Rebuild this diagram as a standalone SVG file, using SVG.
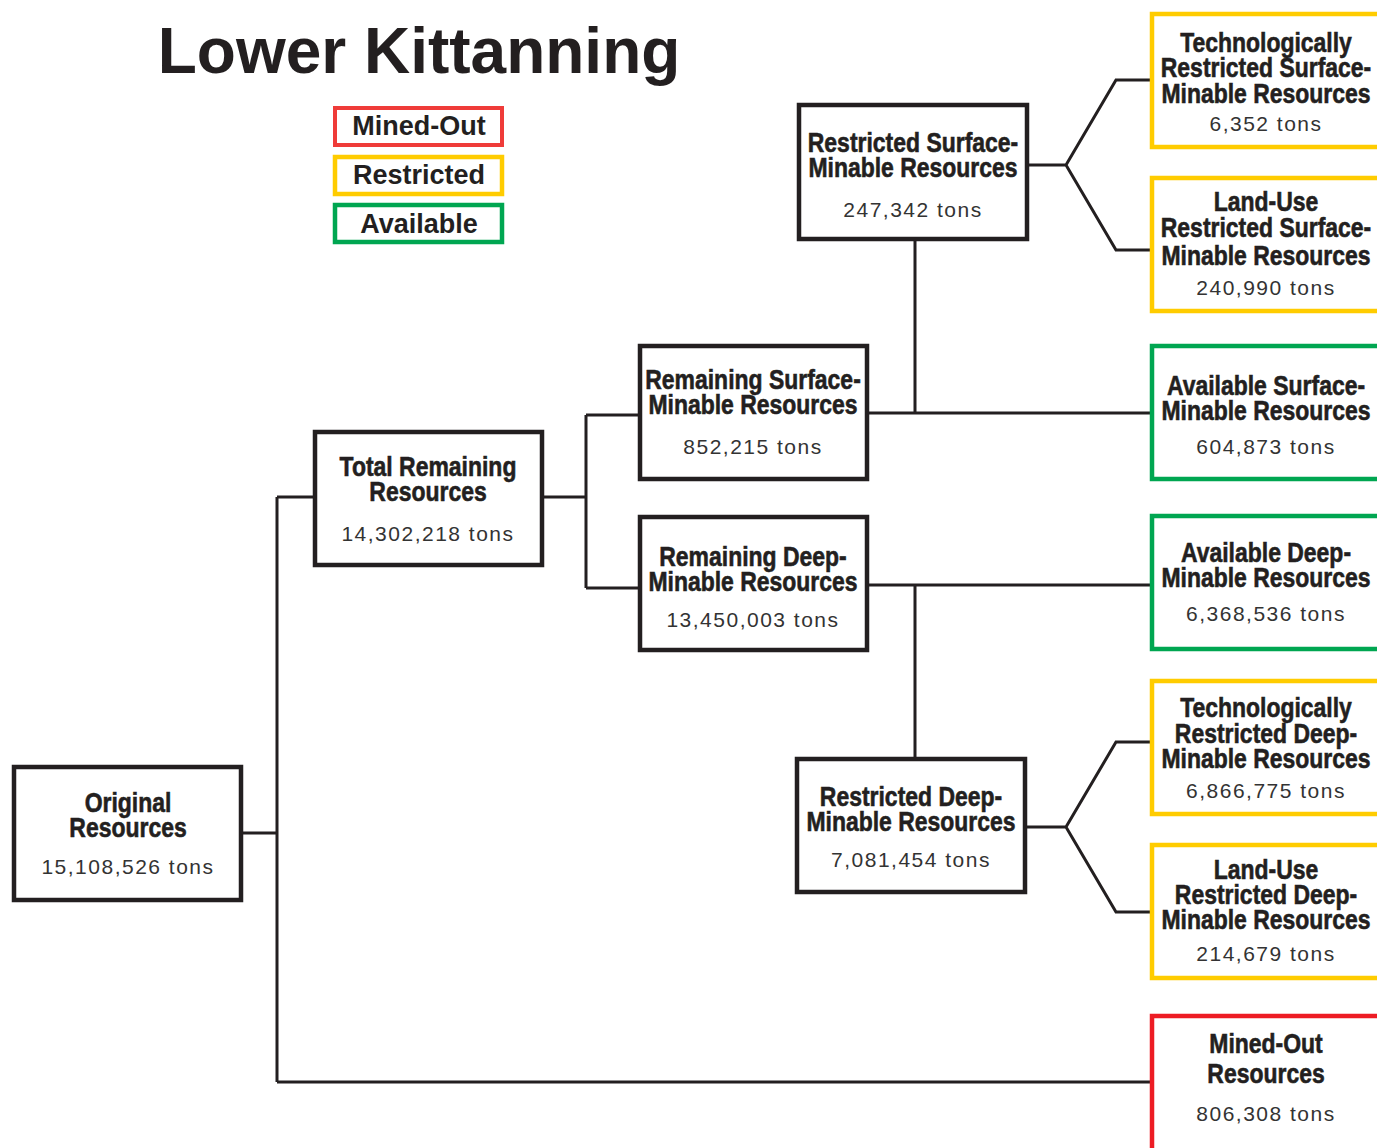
<svg xmlns="http://www.w3.org/2000/svg" width="1377" height="1148" viewBox="0 0 1377 1148">
<style>
.title{font-family:"Liberation Sans",Arial,sans-serif;font-weight:bold;font-size:64px;fill:#231f20}
.leg{font-family:"Liberation Sans",Arial,sans-serif;font-weight:bold;font-size:27px;fill:#231f20;text-anchor:middle}
.b{font-family:"Liberation Sans",Arial,sans-serif;font-weight:bold;font-size:28px;fill:#231f20;stroke:#231f20;stroke-width:0.6;text-anchor:middle}
.t{font-family:"Liberation Sans",Arial,sans-serif;font-size:21px;letter-spacing:1.5px;fill:#333;text-anchor:middle}
.box{fill:#fff;stroke:#231f20;stroke-width:4.5}
.y{fill:#fff;stroke:#ffcc00;stroke-width:4.5}
.g{fill:#fff;stroke:#00a651;stroke-width:4.5}
.r{fill:#fff;stroke:#ed1c24;stroke-width:4.5}
.lr{fill:#fff;stroke:#ef3b39;stroke-width:4}
.c{fill:none;stroke:#231f20;stroke-width:3;stroke-linejoin:miter}
</style>
<text class="title" x="419" y="73" text-anchor="middle">Lower Kittanning</text>
<g id="legend">
<rect class="lr" x="335" y="108" width="167" height="37"/>
<text class="leg" x="419" y="135">Mined-Out</text>
<rect class="y" x="335" y="157" width="167" height="37" stroke-width="4"/>
<text class="leg" x="419" y="184">Restricted</text>
<rect class="g" x="335" y="205" width="167" height="37" stroke-width="4"/>
<text class="leg" x="419" y="233">Available</text>
</g>
<g id="connectors">
<path class="c" d="M243 833H277M277 497V1082M277 497H313M277 1082H1150"/>
<path class="c" d="M544 497H586M586 415V588M586 415H638M586 588H638"/>
<path class="c" d="M869 413H1150M915 241V413"/>
<path class="c" d="M869 585H1150M915 585V757"/>
<path class="c" d="M1029 165H1066L1116 80H1150M1066 165L1116 250H1150"/>
<path class="c" d="M1027 827H1066L1116 742H1150M1066 827L1116 912H1150"/>
</g>
<g id="original">
<rect class="box" x="14" y="767" width="227" height="133"/>
<g transform="translate(128,0) scale(0.82,1)">
<text class="b" x="0" y="812">Original</text>
<text class="b" x="0" y="837">Resources</text>
</g>
<text class="t" x="128" y="874">15,108,526 tons</text>
</g>
<g id="total-remaining">
<rect class="box" x="315" y="432" width="227" height="133"/>
<g transform="translate(428,0) scale(0.82,1)">
<text class="b" x="0" y="476">Total Remaining</text>
<text class="b" x="0" y="501">Resources</text>
</g>
<text class="t" x="428" y="541">14,302,218 tons</text>
</g>
<g id="remaining-surface">
<rect class="box" x="640" y="346" width="227" height="133"/>
<g transform="translate(753,0) scale(0.82,1)">
<text class="b" x="0" y="389">Remaining Surface-</text>
<text class="b" x="0" y="414">Minable Resources</text>
</g>
<text class="t" x="753" y="454">852,215 tons</text>
</g>
<g id="remaining-deep">
<rect class="box" x="640" y="517" width="227" height="133"/>
<g transform="translate(753,0) scale(0.82,1)">
<text class="b" x="0" y="566">Remaining Deep-</text>
<text class="b" x="0" y="591">Minable Resources</text>
</g>
<text class="t" x="753" y="627">13,450,003 tons</text>
</g>
<g id="restricted-surface">
<rect class="box" x="799" y="105" width="228" height="134"/>
<g transform="translate(913,0) scale(0.82,1)">
<text class="b" x="0" y="152">Restricted Surface-</text>
<text class="b" x="0" y="177">Minable Resources</text>
</g>
<text class="t" x="913" y="217">247,342 tons</text>
</g>
<g id="restricted-deep">
<rect class="box" x="797" y="759" width="228" height="133"/>
<g transform="translate(911,0) scale(0.82,1)">
<text class="b" x="0" y="806">Restricted Deep-</text>
<text class="b" x="0" y="831">Minable Resources</text>
</g>
<text class="t" x="911" y="867">7,081,454 tons</text>
</g>
<g id="tech-surface">
<rect class="y" x="1152" y="14" width="240" height="133"/>
<g transform="translate(1266,0) scale(0.82,1)">
<text class="b" x="0" y="52">Technologically</text>
<text class="b" x="0" y="77">Restricted Surface-</text>
<text class="b" x="0" y="103">Minable Resources</text>
</g>
<text class="t" x="1266" y="131">6,352 tons</text>
</g>
<g id="landuse-surface">
<rect class="y" x="1152" y="178" width="240" height="133"/>
<g transform="translate(1266,0) scale(0.82,1)">
<text class="b" x="0" y="211">Land-Use</text>
<text class="b" x="0" y="237">Restricted Surface-</text>
<text class="b" x="0" y="265">Minable Resources</text>
</g>
<text class="t" x="1266" y="295">240,990 tons</text>
</g>
<g id="available-surface">
<rect class="g" x="1152" y="346" width="240" height="133"/>
<g transform="translate(1266,0) scale(0.82,1)">
<text class="b" x="0" y="395">Available Surface-</text>
<text class="b" x="0" y="420">Minable Resources</text>
</g>
<text class="t" x="1266" y="454">604,873 tons</text>
</g>
<g id="available-deep">
<rect class="g" x="1152" y="516" width="240" height="133"/>
<g transform="translate(1266,0) scale(0.82,1)">
<text class="b" x="0" y="562">Available Deep-</text>
<text class="b" x="0" y="587">Minable Resources</text>
</g>
<text class="t" x="1266" y="621">6,368,536 tons</text>
</g>
<g id="tech-deep">
<rect class="y" x="1152" y="681" width="240" height="133"/>
<g transform="translate(1266,0) scale(0.82,1)">
<text class="b" x="0" y="717">Technologically</text>
<text class="b" x="0" y="743">Restricted Deep-</text>
<text class="b" x="0" y="768">Minable Resources</text>
</g>
<text class="t" x="1266" y="798">6,866,775 tons</text>
</g>
<g id="landuse-deep">
<rect class="y" x="1152" y="845" width="240" height="133"/>
<g transform="translate(1266,0) scale(0.82,1)">
<text class="b" x="0" y="879">Land-Use</text>
<text class="b" x="0" y="904">Restricted Deep-</text>
<text class="b" x="0" y="929">Minable Resources</text>
</g>
<text class="t" x="1266" y="961">214,679 tons</text>
</g>
<g id="mined-out">
<rect class="r" x="1152" y="1016" width="240" height="150"/>
<g transform="translate(1266,0) scale(0.82,1)">
<text class="b" x="0" y="1053">Mined-Out</text>
<text class="b" x="0" y="1083">Resources</text>
</g>
<text class="t" x="1266" y="1121">806,308 tons</text>
</g>
</svg>
